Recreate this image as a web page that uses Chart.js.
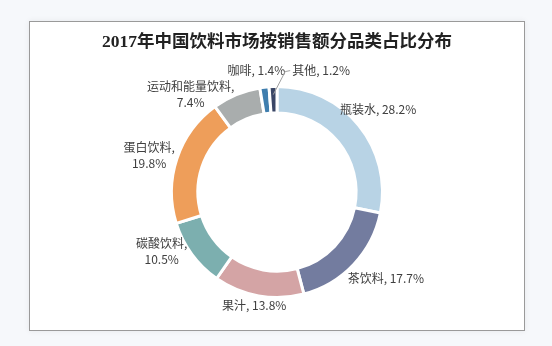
<!DOCTYPE html>
<html><head><meta charset="utf-8">
<script src="https://cdn.jsdelivr.net/npm/chart.js@4"></script>
<style>
html,body{margin:0;padding:0;background:#f6f8fb;width:552px;height:346px;overflow:hidden}
#frame{position:absolute;left:29px;top:21px;width:494px;height:308px;background:#fff;border:1px solid #9a9a9a;box-shadow:0 0 6px rgba(0,0,0,0.07)}
canvas{display:block}
</style></head><body>
<div id="frame"><canvas id="c" width="494" height="308"></canvas></div>
<script>
const titleText = '2017年中国饮料市场按销售额分品类占比分布';
const categories = ['瓶装水','茶饮料','果汁','碳酸饮料','蛋白饮料','运动和能量饮料','咖啡','其他'];
const shares = [28.2, 17.7, 13.8, 10.5, 19.8, 7.4, 1.4, 1.2];
const colors = ['#b8d3e5','#737c9f','#d4a4a5','#7cafaf','#ee9e5a','#a9adad','#3f7eae','#3a4666'];
// label layout (style only)
const labelWrap = [false,false,false,true,true,true,false,false];
const labelNudge = [[0,0],[14,-3],[0,-15],[-10,-18],[-4,5],[-36,23],[-5,8],[49,9]];
const labelLeader = [false,false,false,false,false,false,false,true];

const labelPlugin = {
  id: 'labels',
  afterDatasetsDraw(chart) {
    const ctx = chart.ctx;
    const meta = chart.getDatasetMeta(0);
    ctx.save();
    // title
    ctx.fillStyle = '#222';
    ctx.font = 'bold 17.5px "Liberation Serif", "Noto Sans CJK SC"';
    ctx.textAlign = 'center';
    ctx.textBaseline = 'middle';
    ctx.fillText(titleText, chart.width / 2, 20);
    ctx.font = '12px "Noto Sans CJK SC", "Noto Sans", sans-serif';
    ctx.fillStyle = '#404040';
    meta.data.forEach((arc, i) => {
      const mid = (arc.startAngle + arc.endAngle) / 2;
      const R = arc.outerRadius + 25;
      const lx = arc.x + Math.cos(mid) * R + labelNudge[i][0];
      const ly = arc.y + Math.sin(mid) * R + labelNudge[i][1];
      const val = shares[i].toFixed(1) + '%';
      if (labelWrap[i]) {
        ctx.fillText(categories[i] + ',', lx, ly - 8);
        ctx.fillText(val, lx, ly + 8);
      } else {
        ctx.fillText(categories[i] + ', ' + val, lx, ly);
      }
      if (labelLeader[i]) {
        const w = ctx.measureText(categories[i] + ', ' + val).width;
        const ax = arc.x + Math.cos(mid) * (arc.outerRadius - 8);
        const ay = arc.y + Math.sin(mid) * (arc.outerRadius - 8);
        ctx.strokeStyle = '#a0a0a0';
        ctx.lineWidth = 1;
        ctx.beginPath();
        ctx.moveTo(ax, ay);
        ctx.lineTo(lx - w / 2 - 7, ly + 1);
        ctx.lineTo(lx - w / 2 - 2, ly);
        ctx.stroke();
      }
    });
    ctx.restore();
  }
};

new Chart(document.getElementById('c'), {
  type: 'doughnut',
  data: {
    labels: categories,
    datasets: [{
      data: shares,
      backgroundColor: colors,
      borderColor: '#ffffff',
      borderWidth: 3
    }]
  },
  options: {
    responsive: false,
    devicePixelRatio: 1,
    animation: false,
    cutout: '75%',
    layout: { padding: { top: 63, bottom: 31, left: 140, right: 140 } },
    plugins: { legend: { display: false }, tooltip: { enabled: false }, title: { display: false } }
  },
  plugins: [labelPlugin]
});
</script>
</body></html>
